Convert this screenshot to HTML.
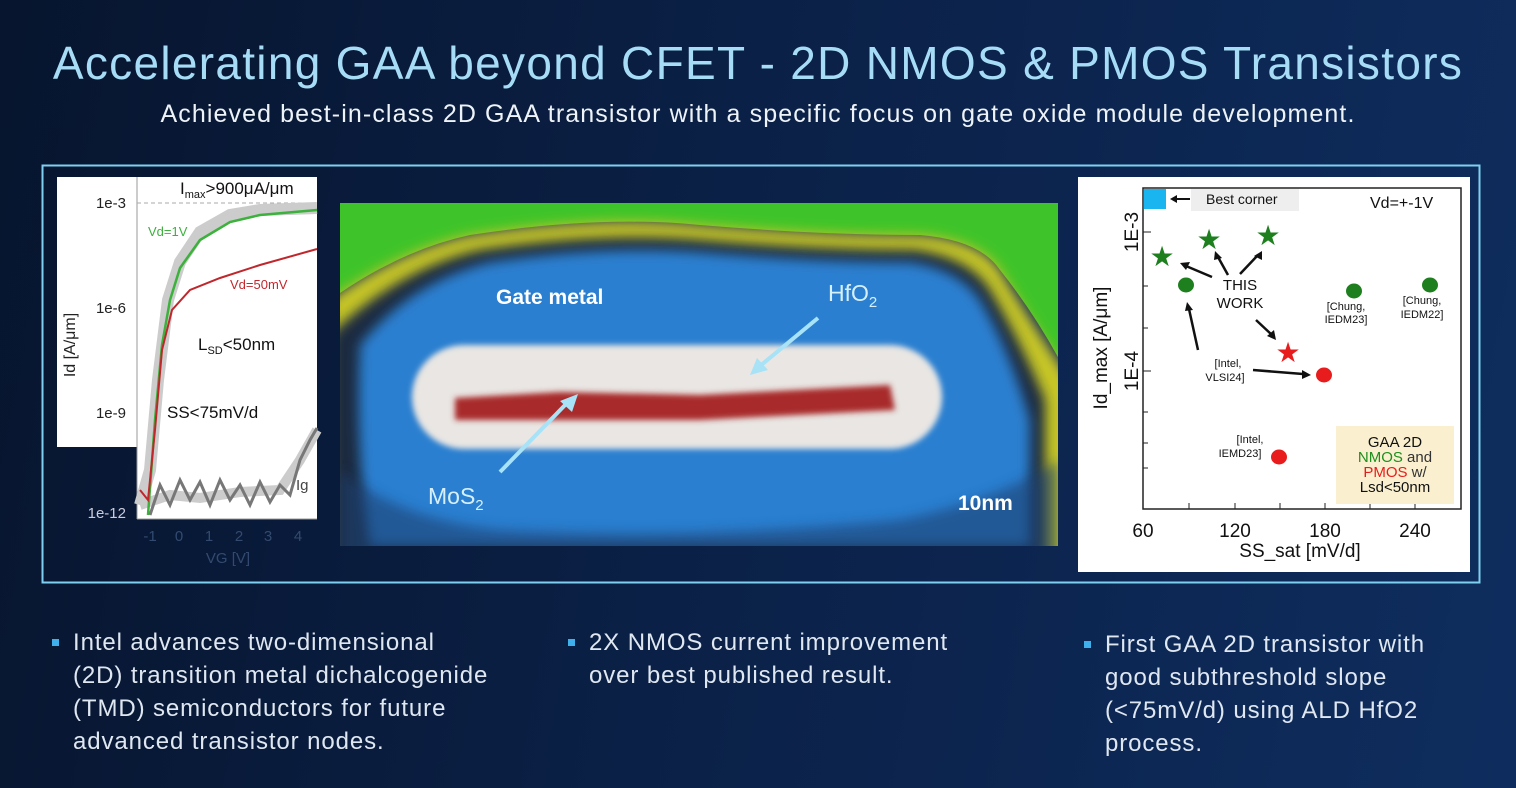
<!DOCTYPE html>
<html><head><meta charset="utf-8"><style>
html,body{margin:0;padding:0;}
body{width:1516px;height:788px;overflow:hidden;background:linear-gradient(100deg,#07152e 0%,#0b2148 50%,#0e2d5e 100%);font-family:"Liberation Sans",sans-serif;position:relative;}
.t{position:absolute;left:0;width:1516px;text-align:center;}
.b{position:absolute;color:#dfe7f1;font-size:24px;line-height:33px;letter-spacing:0.9px;white-space:nowrap;}
.b:before{content:"";position:absolute;left:-21px;top:13px;width:7px;height:7px;background:#3fb0ec;}
</style></head><body>
<div class="t" style="top:36px;font-size:46px;color:#a6dcf6;letter-spacing:1.3px;">Accelerating GAA beyond CFET - 2D NMOS &amp; PMOS Transistors</div>
<div class="t" style="top:100px;font-size:25px;color:#eef3f8;letter-spacing:1.1px;">Achieved best-in-class 2D GAA transistor with a specific focus on gate oxide module development.</div>
<svg style="position:absolute;left:0;top:0" width="1516" height="788">
<defs>
<filter id="bl" x="-20%" y="-20%" width="140%" height="140%"><feGaussianBlur stdDeviation="6"/></filter>
<filter id="bl2" x="-20%" y="-20%" width="140%" height="140%"><feGaussianBlur stdDeviation="3"/></filter>
<clipPath id="ic"><rect x="340" y="203" width="718" height="343"/></clipPath>
</defs>
<rect x="42.5" y="165.5" width="1437" height="417" fill="none" stroke="#7fd0f0" stroke-width="2"/>
<!-- left chart -->
<rect x="57" y="177" width="80" height="270" fill="#fff"/>
<rect x="137" y="177" width="180" height="342" fill="#fff"/>
<line x1="137" y1="177" x2="137" y2="519" stroke="#999"/>
<line x1="137" y1="519" x2="317" y2="519" stroke="#999"/>
<line x1="137" y1="203" x2="317" y2="203" stroke="#aaa" stroke-dasharray="4,3"/>
<path d="M140,505 L150,470 L158,380 L168,300 L180,262 L200,232 L230,215 L260,210 L317,208" stroke="#ccc" stroke-width="12" fill="none"/>
<path d="M140,505 L170,495 L200,498 L240,492 L280,490 L300,460 L317,430" stroke="#ccc" stroke-width="10" fill="none"/>
<path d="M148,515 L155,420 L162,345 L170,300 L180,268 L200,240 L230,222 L260,215 L317,210" stroke="#3cb13c" stroke-width="2.5" fill="none"/>
<path d="M140,490 L148,500 L155,430 L162,350 L172,310 L190,290 L220,278 L260,265 L317,249" stroke="#c0272d" stroke-width="2" fill="none"/>
<path d="M150,515 L160,485 L170,505 L180,480 L190,500 L200,482 L210,505 L220,480 L230,500 L240,485 L250,505 L260,482 L270,502 L280,485 L290,495 L300,460 L310,440 L317,428" stroke="#777" stroke-width="3" fill="none"/>
<g font-size="15" fill="#222" text-anchor="end"><text x="126" y="208">1e-3</text><text x="126" y="313">1e-6</text><text x="126" y="418">1e-9</text><text x="126" y="518" fill="#ccd">1e-12</text></g>
<g font-size="15" fill="#334a70" text-anchor="middle"><text x="150" y="541">-1</text><text x="179" y="541">0</text><text x="209" y="541">1</text><text x="239" y="541">2</text><text x="268" y="541">3</text><text x="298" y="541">4</text><text x="228" y="563">VG [V]</text></g>
<text transform="translate(75,345) rotate(-90)" font-size="16" fill="#222" text-anchor="middle">Id [A/μm]</text>
<text x="180" y="194" font-size="17" fill="#111">I<tspan font-size="11" dy="4">max</tspan><tspan dy="-4">&gt;900μA/μm</tspan></text>
<text x="148" y="236" font-size="13" fill="#3cb13c">Vd=1V</text>
<text x="230" y="289" font-size="13" fill="#c0272d">Vd=50mV</text>
<text x="198" y="350" font-size="17" fill="#111">L<tspan font-size="11" dy="4">SD</tspan><tspan dy="-4">&lt;50nm</tspan></text>
<text x="167" y="418" font-size="17" fill="#111">SS&lt;75mV/d</text>
<text x="296" y="490" font-size="15" fill="#444">Ig</text>
<!-- image -->
<g clip-path="url(#ic)">
<rect x="340" y="203" width="718" height="343" fill="#1a3558"/>
<path d="M330,195 L1070,195 L1070,380 Q1040,320 1000,270 Q980,240 920,235 Q820,235 700,225 Q600,215 470,235 Q400,250 330,300Z" fill="#3ec42a"/>
<path d="M330,300 Q400,250 470,235 Q600,215 700,225 Q820,235 920,235 Q980,240 1000,270 Q1030,320 1070,380 L1070,560 L330,560Z" fill="#c7c625" filter="url(#bl)"/>
<path d="M330,335 Q400,268 480,250 Q600,232 700,240 Q820,250 915,250 Q970,258 990,290 Q1020,340 1045,400 L1045,560 L330,560Z" fill="#1a2a40" filter="url(#bl)"/>
<path d="M360,345 Q410,282 490,262 Q600,245 700,252 Q820,262 910,262 Q960,270 980,300 Q1010,350 1030,420 L1030,546 L370,546 Q355,450 360,345Z" fill="#2a7fd0" filter="url(#bl)"/>
<path d="M340,470 Q400,520 500,530 Q700,540 900,520 Q1000,500 1058,460 L1058,560 L340,560Z" fill="#1c4070" opacity="0.6" filter="url(#bl)"/>
<rect x="412" y="345" width="530" height="104" rx="52" fill="#e9e6e3" filter="url(#bl2)"/>
<path d="M455,398 L560,392 L700,395 L890,385 L895,410 L700,420 L560,420 L455,420Z" fill="#a82a2a" filter="url(#bl2)"/>
<line x1="500" y1="472" x2="568" y2="402" stroke="#a8e2f6" stroke-width="4"/>
<path d="M578,394 L560,401 L572,412Z" fill="#a8e2f6"/>
<line x1="818" y1="318" x2="760" y2="366" stroke="#a8e2f6" stroke-width="4"/>
<path d="M750,375 L757,358 L768,370Z" fill="#a8e2f6"/>
<text x="496" y="304" font-size="21" font-weight="bold" fill="#fff">Gate metal</text>
<text x="828" y="301" font-size="23" fill="#d6f0fb">HfO<tspan font-size="15" dy="6">2</tspan></text>
<text x="428" y="504" font-size="23" fill="#d6f0fb">MoS<tspan font-size="15" dy="6">2</tspan></text>
<text x="958" y="510" font-size="21" font-weight="bold" fill="#fff">10nm</text>
</g>
<!-- right chart -->
<rect x="1078" y="177" width="392" height="395" fill="#fff"/>
<rect x="1143" y="188" width="318" height="321" fill="none" stroke="#222" stroke-width="1.5"/>
<rect x="1144" y="189" width="22" height="20" fill="#19b5f0"/>
<line x1="1172" y1="199" x2="1190" y2="199" stroke="#111" stroke-width="2"/><path d="M1170,199 L1177,195 L1177,203Z" fill="#111"/>
<rect x="1191" y="189" width="108" height="22" fill="#eee"/>
<text x="1206" y="204" font-size="14" fill="#111">Best corner</text>
<text x="1370" y="208" font-size="16" fill="#111">Vd=+-1V</text>
<g stroke="#222"><line x1="1143" y1="232" x2="1151" y2="232"/><line x1="1143" y1="286" x2="1148" y2="286"/><line x1="1143" y1="328" x2="1148" y2="328"/><line x1="1143" y1="371" x2="1151" y2="371"/><line x1="1143" y1="412" x2="1148" y2="412"/><line x1="1143" y1="443" x2="1148" y2="443"/><line x1="1143" y1="468" x2="1148" y2="468"/>
<line x1="1189" y1="509" x2="1189" y2="503"/><line x1="1235" y1="509" x2="1235" y2="503"/><line x1="1280" y1="509" x2="1280" y2="503"/><line x1="1325" y1="509" x2="1325" y2="503"/><line x1="1370" y1="509" x2="1370" y2="503"/><line x1="1415" y1="509" x2="1415" y2="503"/></g>
<g font-size="19" fill="#111" text-anchor="middle"><text x="1143" y="537">60</text><text x="1235" y="537">120</text><text x="1325" y="537">180</text><text x="1415" y="537">240</text><text x="1300" y="557">SS_sat [mV/d]</text></g>
<text transform="translate(1138,232) rotate(-90)" font-size="19" fill="#111" text-anchor="middle">1E-3</text>
<text transform="translate(1138,371) rotate(-90)" font-size="19" fill="#111" text-anchor="middle">1E-4</text>
<text transform="translate(1107,348) rotate(-90)" font-size="19" fill="#111" text-anchor="middle">Id_max [A/μm]</text>
<g fill="#1e7f1e">
<text x="1162" y="266" font-size="28" text-anchor="middle">★</text>
<text x="1209" y="249" font-size="28" text-anchor="middle">★</text>
<text x="1268" y="245" font-size="28" text-anchor="middle">★</text>
<ellipse cx="1186" cy="285" rx="8" ry="7.5"/><ellipse cx="1354" cy="291" rx="8" ry="7.5"/><ellipse cx="1430" cy="285" rx="8" ry="7.5"/></g>
<g fill="#e81c1c"><text x="1288" y="362" font-size="28" text-anchor="middle">★</text><ellipse cx="1324" cy="375" rx="8" ry="7.5"/><ellipse cx="1279" cy="457" rx="8" ry="7.5"/></g>
<g font-size="15" fill="#111" text-anchor="middle"><text x="1240" y="290">THIS</text><text x="1240" y="308">WORK</text></g>
<g font-size="11" fill="#111" text-anchor="middle"><text x="1346" y="310">[Chung,</text><text x="1346" y="323">IEDM23]</text><text x="1422" y="304">[Chung,</text><text x="1422" y="318">IEDM22]</text>
<text x="1228" y="367">[Intel,</text><text x="1225" y="381">VLSI24]</text><text x="1250" y="443">[Intel,</text><text x="1240" y="457">IEMD23]</text></g>
<g stroke="#111" stroke-width="2.5"><line x1="1212" y1="277" x2="1186" y2="266"/><line x1="1228" y1="275" x2="1218" y2="257"/><line x1="1240" y1="274" x2="1258" y2="255"/><line x1="1256" y1="320" x2="1272" y2="335"/><line x1="1198" y1="350" x2="1189" y2="309"/><line x1="1253" y1="370" x2="1303" y2="374"/></g>
<g fill="#111"><path d="M1180,263 L1190,262 L1186,270Z"/><path d="M1215,251 L1222,258 L1214,260Z"/><path d="M1262,251 L1262,260 L1254,256Z"/><path d="M1276,340 L1267,336 L1274,330Z"/><path d="M1187,302 L1193,310 L1185,311Z"/><path d="M1311,375 L1302,370 L1302,379Z"/></g>
<rect x="1336" y="426" width="118" height="78" fill="#faf0cf"/>
<g font-size="15" text-anchor="middle"><text x="1395" y="447" fill="#111">GAA 2D</text><text x="1395" y="462"><tspan fill="#1e8f1e">NMOS</tspan><tspan fill="#333"> and</tspan></text><text x="1395" y="477"><tspan fill="#e81c1c">PMOS</tspan><tspan fill="#333"> w/</tspan></text><text x="1395" y="492" fill="#111">Lsd&lt;50nm</text></g>
</svg>
<div class="b" style="left:73px;top:626px;">Intel advances two-dimensional<br>(2D) transition metal dichalcogenide<br>(TMD) semiconductors for future<br>advanced transistor nodes.</div>
<div class="b" style="left:589px;top:626px;">2X NMOS current improvement<br>over best published result.</div>
<div class="b" style="left:1105px;top:628px;">First GAA 2D transistor with<br>good subthreshold slope<br>(&lt;75mV/d) using ALD HfO2<br>process.</div>
</body></html>
